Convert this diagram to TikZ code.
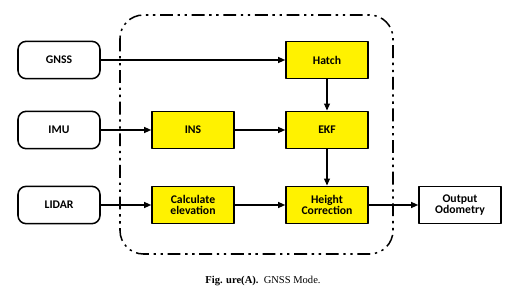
\documentclass[tikz,border=0pt]{standalone}
\usepackage{fontspec}
\setmainfont{Liberation Serif}
\newfontfamily\boxfont{Carlito}
\usetikzlibrary{arrows.meta}
\begin{document}
\begin{tikzpicture}[x=0.03cm, y=-0.03cm, line join=round, >={Triangle[length=6pt,width=5pt]},
	inbox/.style={draw, line width=1.3pt, rounded corners=7pt, minimum width=2.46cm, minimum height=1.12cm, font=\boxfont\bfseries},
	yelbox/.style={draw, line width=1.3pt, fill=yellow, minimum width=2.46cm, minimum height=1.12cm, align=center, font=\boxfont\bfseries},
	outbox/.style={draw, line width=1.3pt, fill=white, minimum width=2.46cm, minimum height=1.12cm, align=center, font=\boxfont\bfseries},
	link/.style={->, line width=1.2pt}]
	\useasboundingbox (0,0) rectangle (526,305);
	% dashed frame
	\draw[line width=1.3pt, rounded corners=20pt, dash pattern=on 11pt off 4pt on 2pt off 4pt on 2pt off 4pt] (120,15) rectangle (393,254);
	% inputs
	\node[inbox] (gnss) at (59,60) {GNSS};
	\node[inbox] (imu) at (59,130) {IMU};
	\node[inbox] (lidar) at (59,205) {LIDAR};
	% processing
	\node[yelbox] (ins) at (193,130) {INS};
	\node[yelbox] (calc) at (193,205) {Calculate\\[-3pt]elevation};
	\node[yelbox] (hatch) at (327,60) {Hatch};
	\node[yelbox] (ekf) at (327,130) {EKF};
	\node[yelbox] (height) at (327,205) {Height\\[-3pt]Correction};
	\node[outbox] (out) at (460,205) {Output\\[-3pt]Odometry};
	% connectors
	\draw[link] (gnss) -- (hatch);
	\draw[link] (imu) -- (ins);
	\draw[link] (ins) -- (ekf);
	\draw[link] (lidar) -- (calc);
	\draw[link] (calc) -- (height);
	\draw[link] (hatch) -- (ekf);
	\draw[link] (ekf) -- (height);
	\draw[link] (height) -- (out);
	% caption
	\node[font=\small] (cap) at (263,281) {\textbf{Fig. ure(A).}\ \ GNSS Mode.};
\end{tikzpicture}
\end{document}
